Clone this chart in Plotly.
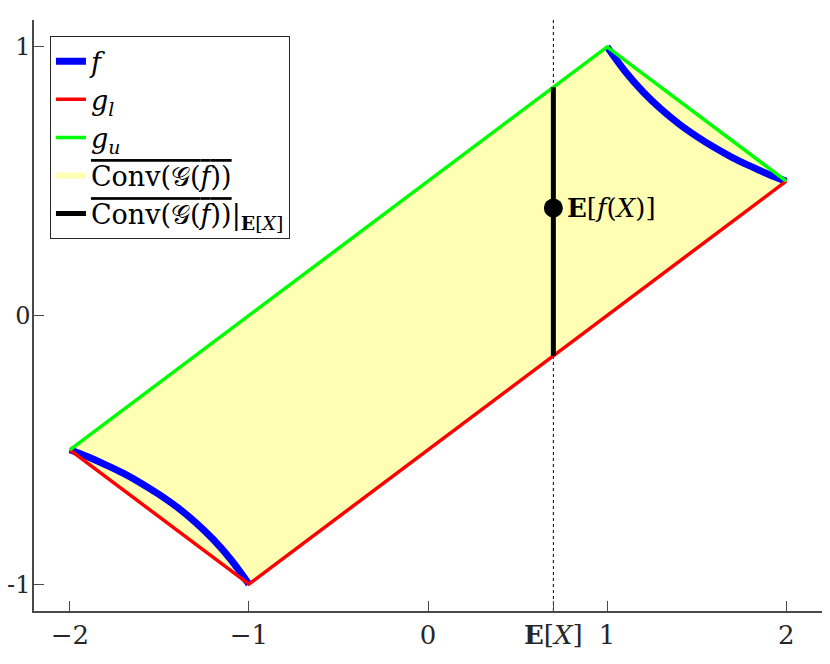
import plotly.graph_objects as go

# f = 1/x on [-2,-1] and [1,2]
f_x = [-2.0, -1.9, -1.8, -1.7, -1.6, -1.5, -1.4, -1.3, -1.2, -1.1, -1.0,
       None,
       1.0, 1.1, 1.2, 1.3, 1.4, 1.5, 1.6, 1.7, 1.8, 1.9, 2.0]
f_y = [-0.5, -0.526, -0.556, -0.588, -0.625, -0.667, -0.714, -0.769, -0.833, -0.909, -1.0,
       None,
       1.0, 0.909, 0.833, 0.769, 0.714, 0.667, 0.625, 0.588, 0.556, 0.526, 0.5]

gl_x = [-2, -1, 2]
gl_y = [-0.5, -1, 0.5]
gu_x = [-2, 1, 2]
gu_y = [-0.5, 1, 0.5]

hull_x = [-2, 1, 2, -1, -2]
hull_y = [-0.5, 1, 0.5, -1, -0.5]

EX = 0.7
slice_y = [-0.15, 0.85]
Ef = 0.4

xtick_vals = [-2, -1, 0, EX, 1, 2]
xtick_text = ['\u22122', '\u22121', '0', '<b>E</b>[<i>X</i>]', '1', '2']
ytick_vals = [-1, 0, 1]
ytick_text = ['-1', '0', '1']

FONT = 'DejaVu Serif'
AX = '#4a4a4a'
OL = '<span style="text-decoration:overline">Conv(\U0001D4A2(<i>f</i>))</span>'

fig = go.Figure()

fig.add_trace(go.Scatter(
    x=hull_x, y=hull_y, mode='none', fill='toself',
    fillcolor='rgb(255,255,179)', name=OL, legendrank=4,
))
fig.add_trace(go.Scatter(
    x=f_x, y=f_y, mode='lines', line=dict(color='#0000ff', width=7, shape='spline'),
    name='<i>f</i>', legendrank=1,
))
fig.add_trace(go.Scatter(
    x=gl_x, y=gl_y, mode='lines', line=dict(color='#ff0000', width=3.5),
    name='<i>g<sub>l</sub></i>', legendrank=2,
))
fig.add_trace(go.Scatter(
    x=gu_x, y=gu_y, mode='lines', line=dict(color='#00ff00', width=3.5),
    name='<i>g<sub>u</sub></i>', legendrank=3,
))
fig.add_trace(go.Scatter(
    x=[EX, EX], y=slice_y, mode='lines', line=dict(color='black', width=5),
    name=OL + '|<sub><b>E</b>[<i>X</i>]</sub>', legendrank=5,
))
fig.add_trace(go.Scatter(
    x=[EX], y=[Ef], mode='markers', marker=dict(color='black', size=19),
    showlegend=False,
))

fig.add_vline(x=EX, line=dict(color='black', width=1, dash='dot'), layer='below')

fig.add_annotation(
    x=EX, y=Ef, text='<b>E</b>[<i>f</i>(<i>X</i>)]', showarrow=False,
    xanchor='left', yanchor='middle', xshift=12,
    font=dict(family=FONT, size=26, color='black'),
)

axis_common = dict(
    showline=True, linecolor=AX, linewidth=1.5, ticks='inside', ticklen=10,
    tickcolor=AX, tickwidth=1.2, showgrid=False, zeroline=False, mirror=False,
    automargin=False,
)

fig.update_layout(
    width=830, height=664,
    margin=dict(l=26, r=16, t=12, b=61),
    plot_bgcolor='white', paper_bgcolor='white',
    font=dict(family=FONT, size=26, color='black'),
    xaxis=dict(range=[-2.2, 2.2], tickvals=xtick_vals, ticktext=xtick_text,
               tickfont=dict(family=FONT, size=26, color='#262626'), **axis_common),
    yaxis=dict(range=[-1.1, 1.1], tickvals=ytick_vals, ticktext=ytick_text,
               tickfont=dict(family=FONT, size=24, color='#262626'),
               ticklabelstandoff=-3, **axis_common),
    legend=dict(
        x=0.02, y=0.973, xanchor='left', yanchor='top',
        bordercolor='#262626', borderwidth=1.2, bgcolor='white',
        font=dict(family=FONT, size=27), tracegroupgap=0,
    ),
)

fig.write_html("out.html")
